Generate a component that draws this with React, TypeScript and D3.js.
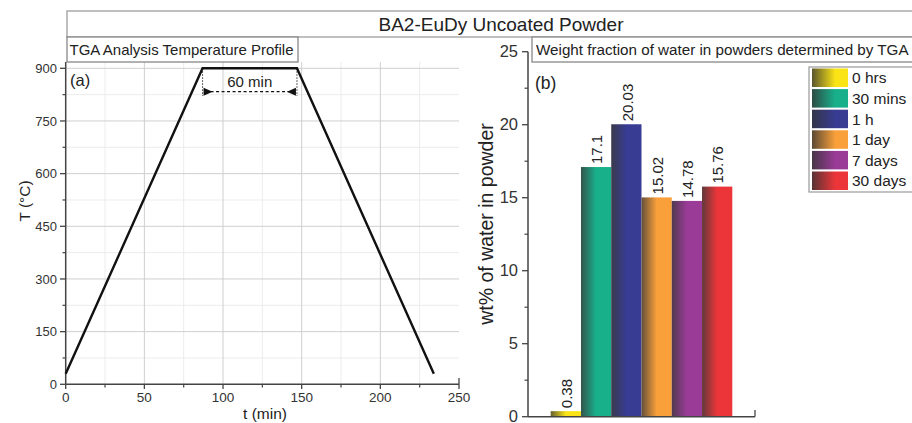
import React from "react";
import * as d3 from "d3";

const tempTime = [0, 87, 147, 234];
const tempValue = [30, 900, 900, 30];
const tTicks = [0, 50, 100, 150, 200, 250];
const TTicks = [0, 150, 300, 450, 600, 750, 900];

const categories = ["0 hrs", "30 mins", "1 h", "1 day", "7 days", "30 days"];
const waterValues = [0.38, 17.1, 20.03, 15.02, 14.78, 15.76];
const waterLabels = ["0.38", "17.1", "20.03", "15.02", "14.78", "15.76"];
const barColors = ["#fbe416", "#18b08b", "#383c92", "#f9a03a", "#9a3b97", "#ec3539"];
const wTicks = [0, 5, 10, 15, 20, 25];

const FONT = "'Liberation Sans', Arial, Helvetica, sans-serif";

export default function App() {
  const xa = d3.scaleLinear().domain([0, 250]).range([65.7, 459]);
  const ya = d3.scaleLinear().domain([0, 900]).range([384.3, 68.3]);
  const line = d3
    .line<number>()
    .x((_, i) => xa(tempTime[i]))
    .y((d) => ya(d));

  const xb = d3
    .scaleBand<string>()
    .domain(categories)
    .range([528, 755])
    .paddingInner(0)
    .paddingOuter(0.75);
  const yb = d3.scaleLinear().domain([0, 25]).range([416.7, 51.7]);

  const minorT = d3.range(25, 250, 50);
  const minorTT = d3.range(75, 900, 150);
  const minorW = d3.range(2.5, 25, 5);

  const axisColor = "#444";
  const gridMajor = "#cfcfcf";
  const gridMinor = "#ececec";

  const x87 = xa(87);
  const x147 = xa(147);

  return (
    <svg
      width={912}
      height={423}
      style={{ position: "absolute", left: 0, top: 0, background: "#fff" }}
      fontFamily={FONT}
    >
      <defs>
        {barColors.map((c, i) => (
          <linearGradient key={i} id={`g${i}`} x1="0" x2="1" y1="0" y2="0">
            <stop offset="0%" stopColor={d3.interpolateRgb(c, "#3a3a3a")(0.78)} />
            <stop offset="50%" stopColor={c} />
            <stop offset="100%" stopColor={c} />
          </linearGradient>
        ))}
        {barColors.map((c, i) => (
          <linearGradient key={"l" + i} id={`lg${i}`} x1="0" x2="1" y1="0" y2="0">
            <stop offset="0%" stopColor={d3.interpolateRgb(c, "#333")(0.8)} />
            <stop offset="65%" stopColor={c} />
            <stop offset="100%" stopColor={c} />
          </linearGradient>
        ))}
      </defs>

      {/* outer title box */}
      <rect x={67} y={11} width={850} height={26} fill="#fff" stroke="#aaa" strokeWidth={1.5} />
      <text x={501} y={30.5} textAnchor="middle" fontSize={19} fill="#222">
        BA2-EuDy Uncoated Powder
      </text>

      {/* ===== Panel (a) ===== */}
      <g>
        {/* minor grid */}
        {minorT.map((t) => (
          <line key={"mt" + t} x1={xa(t)} x2={xa(t)} y1={62} y2={384.3} stroke={gridMinor} strokeWidth={1} />
        ))}
        {minorTT.map((t) => (
          <line key={"mT" + t} x1={65.7} x2={459} y1={ya(t)} y2={ya(t)} stroke={gridMinor} strokeWidth={1} />
        ))}
        {/* major grid */}
        {tTicks.slice(1, -1).map((t) => (
          <line key={"gt" + t} x1={xa(t)} x2={xa(t)} y1={62} y2={384.3} stroke={gridMajor} strokeWidth={1} />
        ))}
        {TTicks.slice(1).map((t) => (
          <line key={"gT" + t} x1={65.7} x2={459} y1={ya(t)} y2={ya(t)} stroke={gridMajor} strokeWidth={1} />
        ))}

        {/* title box */}
        <rect x={67} y={37} width={231} height={25} fill="#fff" stroke="#888" strokeWidth={1.3} />
        <text x={69.5} y={55} fontSize={15} fill="#222">
          TGA Analysis Temperature Profile
        </text>

        {/* axes */}
        <line x1={65.7} x2={65.7} y1={62} y2={384.3} stroke={axisColor} strokeWidth={1.5} />
        <line x1={65.7} x2={459} y1={384.3} y2={384.3} stroke={axisColor} strokeWidth={1.5} />
        {TTicks.map((t) => (
          <g key={"yt" + t}>
            <line x1={60} x2={65.7} y1={ya(t)} y2={ya(t)} stroke={axisColor} strokeWidth={1.3} />
            <text x={57} y={ya(t)} dy="0.35em" textAnchor="end" fontSize={13} fill="#333">
              {t}
            </text>
          </g>
        ))}
        {minorTT.map((t) => (
          <line key={"ymt" + t} x1={62.5} x2={65.7} y1={ya(t)} y2={ya(t)} stroke={axisColor} strokeWidth={1.2} />
        ))}
        {tTicks.map((t) => (
          <g key={"xt" + t}>
            <line x1={xa(t)} x2={xa(t)} y1={t === 250 ? 378 : 384.3} y2={389} stroke={axisColor} strokeWidth={1.3} />
            <text x={xa(t)} y={402} textAnchor="middle" fontSize={13.5} fill="#333">
              {t}
            </text>
          </g>
        ))}
        {minorT.map((t) => (
          <line key={"xmt" + t} x1={xa(t)} x2={xa(t)} y1={384.3} y2={387.5} stroke={axisColor} strokeWidth={1.2} />
        ))}

        <text x={265} y={419} textAnchor="middle" fontSize={15.5} fill="#222">
          t (min)
        </text>
        <text transform="translate(30,201) rotate(-90)" textAnchor="middle" fontSize={15.5} fill="#222">
          T (°C)
        </text>
        <text x={70} y={86} fontSize={16.5} fill="#222">
          (a)
        </text>

        {/* annotation */}
        <line x1={x87} x2={x87} y1={ya(900)} y2={96} stroke="#333" strokeWidth={1} strokeDasharray="1.5,1.5" />
        <line x1={x147} x2={x147} y1={ya(900)} y2={96} stroke="#333" strokeWidth={1} strokeDasharray="1.5,1.5" />
        <line x1={x87 + 8} x2={x147 - 8} y1={91.7} y2={91.7} stroke="#111" strokeWidth={1.2} strokeDasharray="3,2.5" />
        <path d={`M${x87 + 1},87.7 L${x87 + 10},91.7 L${x87 + 1},95.7 z`} fill="#111" />
        <path d={`M${x147 - 1},87.7 L${x147 - 10},91.7 L${x147 - 1},95.7 z`} fill="#111" />
        <text x={(x87 + x147) / 2} y={87} textAnchor="middle" fontSize={15} fill="#222">
          60 min
        </text>

        <path d={line(tempValue) || ""} fill="none" stroke="#111" strokeWidth={2.4} />
      </g>

      {/* ===== Panel (b) ===== */}
      <g>
        <rect x={532} y={37} width={385} height={25} fill="#fff" stroke="#888" strokeWidth={1.3} />
        <text x={536} y={55} fontSize={15.2} fill="#222">
          Weight fraction of water in powders determined by TGA
        </text>

        {/* bars */}
        {categories.map((c, i) => (
          <rect
            key={c}
            x={xb(c)!}
            y={yb(waterValues[i])}
            width={xb.bandwidth()}
            height={yb(0) - yb(waterValues[i])}
            fill={`url(#g${i})`}
          />
        ))}
        {categories.map((c, i) => {
          const cx = xb(c)! + xb.bandwidth() / 2 + 1;
          const y = yb(waterValues[i]) - 3;
          return (
            <text
              key={"lab" + c}
              transform={`translate(${cx},${y}) rotate(-90)`}
              dy="0.35em"
              fontSize={15}
              fill="#222"
            >
              {waterLabels[i]}
            </text>
          );
        })}

        {/* axes */}
        <line x1={528} x2={528} y1={51.7} y2={416.7} stroke={axisColor} strokeWidth={1.5} />
        <line x1={528} x2={755} y1={416.7} y2={416.7} stroke={axisColor} strokeWidth={1.5} />
        <line x1={755} x2={755} y1={410} y2={416.7} stroke={axisColor} strokeWidth={1.3} />
        {wTicks.map((t) => (
          <g key={"wt" + t}>
            <line x1={522} x2={528} y1={yb(t)} y2={yb(t)} stroke={axisColor} strokeWidth={1.3} />
            <text x={518} y={yb(t)} dy="0.35em" textAnchor="end" fontSize={16.5} fill="#333">
              {t}
            </text>
          </g>
        ))}
        {minorW.map((t) => (
          <line key={"wmt" + t} x1={524.5} x2={528} y1={yb(t)} y2={yb(t)} stroke={axisColor} strokeWidth={1.2} />
        ))}
        <text transform="translate(486,224) rotate(-90)" dy="0.35em" textAnchor="middle" fontSize={19.5} fill="#222">
          wt% of water in powder
        </text>
        <text x={535} y={89} fontSize={17.5} fill="#222">
          (b)
        </text>

        {/* legend */}
        <rect x={809} y={67} width={110} height={125} fill="#fff" stroke="#999" strokeWidth={1.2} />
        {categories.map((c, i) => {
          const y0 = 68.5 + i * 20.6;
          return (
            <g key={"leg" + c}>
              <rect x={812} y={y0} width={36} height={18.5} fill={`url(#lg${i})`} />
              <text x={852} y={y0 + 9.5} dy="0.35em" fontSize={15.5} fill="#222">
                {c}
              </text>
            </g>
          );
        })}
      </g>
    </svg>
  );
}
